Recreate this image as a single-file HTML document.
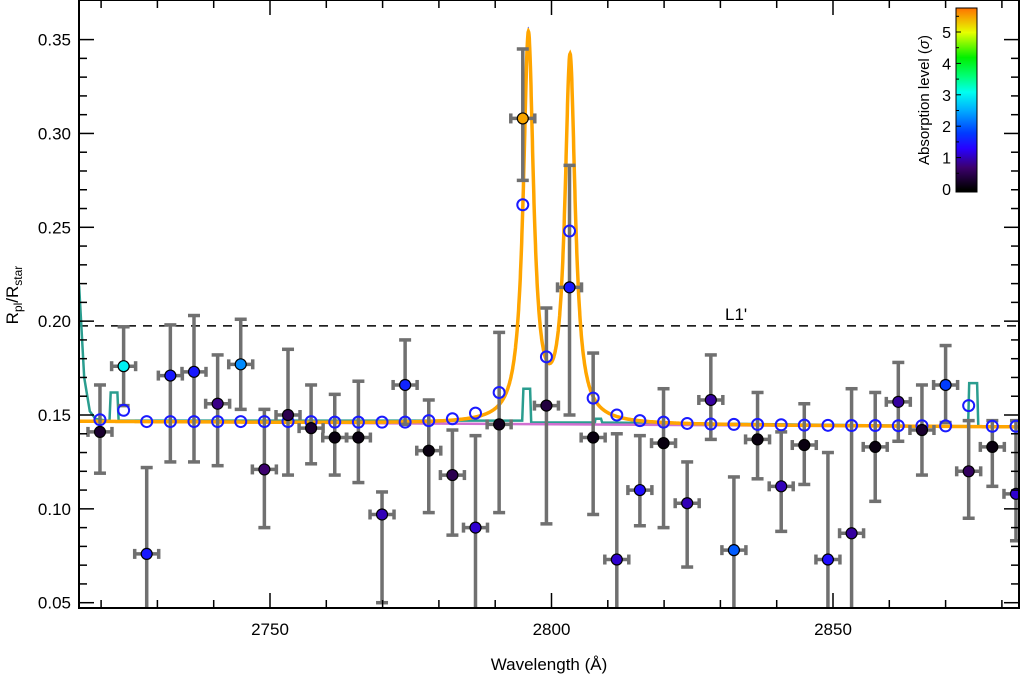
<!DOCTYPE html>
<html><head><meta charset="utf-8"><style>
html,body{margin:0;padding:0;background:#fff;}
svg{display:block;font-family:"Liberation Sans",sans-serif;}
</style></head><body>
<svg id="chart" width="1020" height="676" viewBox="0 0 1020 676" xmlns="http://www.w3.org/2000/svg"></svg>
<script>
const wavelengths = [2719.8,2724.0,2728.1,2732.3,2736.5,2740.7,2744.8,2749.0,2753.2,2757.3,2761.5,2765.7,2769.9,2774.0,2778.2,2782.4,2786.5,2790.7,2794.9,2799.1,2803.2,2807.4,2811.6,2815.7,2819.9,2824.1,2828.3,2832.4,2836.6,2840.8,2844.9,2849.1,2853.3,2857.5,2861.6,2865.8,2870.0,2874.1,2878.3,2882.5];
const obsValues = [0.141,0.176,0.076,0.171,0.173,0.156,0.177,0.121,0.150,0.143,0.138,0.138,0.097,0.166,0.131,0.118,0.090,0.145,0.308,0.155,0.218,0.138,0.073,0.110,0.135,0.103,0.158,0.078,0.137,0.112,0.134,0.073,0.087,0.133,0.157,0.142,0.166,0.120,0.133,0.108];
const errLow = [0.119,0.155,0.040,0.125,0.125,0.123,0.153,0.090,0.118,0.124,0.118,0.114,0.050,0.145,0.098,0.086,0.040,0.098,0.275,0.092,0.150,0.097,0.040,0.091,0.090,0.069,0.137,0.040,0.116,0.088,0.113,0.040,0.040,0.104,0.136,0.118,0.146,0.095,0.112,0.083];
const errHigh = [0.166,0.197,0.122,0.198,0.203,0.182,0.201,0.153,0.185,0.166,0.161,0.168,0.109,0.190,0.158,0.142,0.139,0.194,0.345,0.207,0.283,0.183,0.140,0.139,0.164,0.125,0.182,0.117,0.162,0.141,0.156,0.130,0.164,0.162,0.178,0.166,0.187,0.147,0.147,0.147];
const sigmaValues = [0.3,3.0,1.5,1.5,1.5,0.8,2.3,0.7,0.5,0.3,0.1,0.1,1.0,1.6,0.1,0.5,1.1,0.2,5.5,0.4,1.5,0.1,1.1,1.4,0.1,1.0,0.9,2.0,0.1,1.0,0.1,1.4,0.9,0.1,0.9,0.3,1.8,0.6,0.1,1.1];
const modelBinned = [0.1475,0.1525,0.1465,0.1465,0.1465,0.1465,0.1465,0.1465,0.1465,0.1465,0.1462,0.1462,0.1462,0.1462,0.1470,0.1480,0.1510,0.1620,0.2620,0.1810,0.2480,0.1590,0.1500,0.1470,0.1462,0.1455,0.1452,0.1450,0.1450,0.1448,0.1446,0.1445,0.1444,0.1444,0.1443,0.1443,0.1442,0.1550,0.1440,0.1440];
const yTicks = [0.05,0.10,0.15,0.20,0.25,0.30,0.35];
const xTicks = [2750,2800,2850];
const cbTicks = [0,1,2,3,4,5];
const lineCenters = [2795.9,2803.3];
const lineAmps = [0.205,0.193];
const teal = [[2716.1,0.219],[2717.0,0.170],[2718,0.152],[2719,0.148],[2721.0,0.147],[2721.5,0.147],[2721.7,0.162],[2722.9,0.162],[2723.1,0.147],[2794.8,0.147],[2795.0,0.164],[2796.2,0.164],[2796.4,0.146],[2807.7,0.146],[2807.8,0.148],[2808.8,0.148],[2809.0,0.146],[2874.0,0.144],[2874.2,0.167],[2875.6,0.167],[2875.8,0.144]];

const L=79,R=1019,T=0,B=608;
const xs=w=>270+(w-2750)*5.63;
const ys=v=>415-(v-0.15)*1877;
const svg=document.getElementById('chart');
const NS='http://www.w3.org/2000/svg';
function mk(tag,attrs,parent){const e=document.createElementNS(NS,tag);for(const k in attrs)e.setAttribute(k,attrs[k]);(parent||svg).appendChild(e);return e;}
const stops=[[0,[0,0,0]],[0.7,[60,0,110]],[1.3,[40,0,255]],[1.8,[0,60,255]],[2.5,[0,170,255]],[3.1,[0,255,240]],[3.6,[0,255,120]],[4.2,[0,240,0]],[5.0,[230,255,0]],[5.8,[255,110,0]]];
function cmap(s){for(let i=0;i<stops.length-1;i++){const a=stops[i],b=stops[i+1];if(s<=b[0]){const t=Math.max(0,(s-a[0])/(b[0]-a[0]));return 'rgb('+a[1].map((c,j)=>Math.round(c+(b[1][j]-c)*t)).join(',')+')';}}return 'rgb(255,110,0)';}
function base(w){return 0.1466-(w-2716)*0.000018;}
function model(w){let v=base(w);for(let i=0;i<lineCenters.length;i++){const d=(w-lineCenters[i])/1.1;v+=lineAmps[i]/(1+d*d);}return v;}

mk('defs',{}).innerHTML='<clipPath id="pc"><rect x="79" y="0" width="940" height="608"/></clipPath><clipPath id="tipc"><rect x="79" y="0" width="940" height="28"/></clipPath>';
const plot=mk('g',{'clip-path':'url(#pc)'});


const dl=mk('line',{x1:L,x2:R,y1:ys(0.1975),y2:ys(0.1975),stroke:'#000','stroke-width':1.5,'stroke-dasharray':'9,7'},plot);


const lt=mk('text',{x:725,y:ys(0.1975)-6,'font-size':17},plot);lt.textContent="L1'";


let tp=teal.map((p,i)=>(i?'L':'M')+xs(p[0]).toFixed(1)+','+ys(p[1]).toFixed(1)).join(' ');
const tl=mk('path',{d:tp,fill:'none',stroke:'#2a9d8f','stroke-width':2.5},plot);


const ml=mk('line',{x1:L,x2:R,y1:ys(base(2716)),y2:ys(base(2883)),stroke:'#d070d0','stroke-width':2.5},plot);


let op='';for(let w=2716;w<=2883;w+=0.05){op+=(op?'L':'M')+xs(w).toFixed(1)+','+ys(model(w)).toFixed(1);}
const ol=mk('path',{d:op,fill:'none',stroke:'#ffa500','stroke-width':3.5},plot);


const blueTip=mk('path',{d:op,fill:'none',stroke:'#1030ff','stroke-width':3.5,'clip-path':'url(#tipc)'},plot);


for(let i=0;i<wavelengths.length;i++){
  const x=xs(wavelengths[i]),y=ys(obsValues[i]),y1=ys(errHigh[i]),y2=ys(errLow[i]);
  const g=mk('g',{stroke:'#707070','stroke-width':3.5},plot);
  
  
  mk('line',{x1:x,x2:x,y1:y1,y2:y2},g);
  mk('line',{x1:x-6,x2:x+6,y1:y1,y2:y1},g);
  mk('line',{x1:x-6,x2:x+6,y1:y2,y2:y2},g);
  mk('line',{x1:x-12,x2:x+12,y1:y,y2:y},g);
  mk('line',{x1:x-12,x2:x-12,y1:y-5,y2:y+5},g);
  mk('line',{x1:x+12,x2:x+12,y1:y-5,y2:y+5},g);
}
for(let i=0;i<wavelengths.length;i++){
  const c=mk('circle',{cx:xs(wavelengths[i]),cy:ys(modelBinned[i]),r:5.5,fill:'none',stroke:'#1a1aff','stroke-width':2},plot);
  
  
}
for(let i=0;i<wavelengths.length;i++){
  const c=mk('circle',{cx:xs(wavelengths[i]),cy:ys(obsValues[i]),r:5.5,fill:cmap(sigmaValues[i]),stroke:'#000','stroke-width':1.2},plot);
  
  
}
const box=mk('rect',{x:L,y:T,width:R-L,height:B-T,fill:'none',stroke:'#000','stroke-width':2});


const ax=mk('g',{stroke:'#000','stroke-width':1.5});


for(let v=0.05;v<=0.36;v+=0.01){const y=ys(v);if(y<T)continue;const maj=Math.abs(Math.round(v*100)%5)<0.01;const len=maj?15:8;
  mk('line',{x1:L,x2:L+len,y1:y,y2:y},ax);mk('line',{x1:R-len,x2:R,y1:y,y2:y},ax);}
for(let w=2720;w<=2880;w+=10){const x=xs(w);const len=(w%50===0)?15:8;
  mk('line',{x1:x,x2:x,y1:B,y2:B-len},ax);mk('line',{x1:x,x2:x,y1:T,y2:T+len},ax);}
yTicks.forEach(v=>{const t=mk('text',{x:L-8,y:ys(v)+6,'text-anchor':'end','font-size':17});t.textContent=v.toFixed(2);
  
  });
xTicks.forEach(w=>{const t=mk('text',{x:xs(w),y:635,'text-anchor':'middle','font-size':17});t.textContent=w;
  
  });
const xt=mk('text',{x:549,y:670,'text-anchor':'middle','font-size':17});xt.textContent='Wavelength (Å)';


const yt=mk('text',{x:0,y:0,'text-anchor':'middle','font-size':17,transform:'translate(18,295) rotate(-90)'});
yt.innerHTML='R<tspan font-size="12" dy="4">pl</tspan><tspan dy="-4">/R</tspan><tspan font-size="12" dy="4">star</tspan>';


const cb=mk('g',{});


const cbY=s=>189-s*31.4;
for(let y=8;y<192;y++){const s=(189-y)/31.4;mk('rect',{x:956,y:y,width:21,height:1.2,fill:cmap(Math.max(0,s))},cb);}
mk('rect',{x:956,y:8,width:21,height:184,fill:'none',stroke:'#000','stroke-width':1},cb);
for(let s=0;s<=5.7;s+=0.5){const y=cbY(s);mk('line',{x1:956,x2:s%1===0?961:959,y1:y,y2:y,stroke:'#000','stroke-width':1},cb);}
cbTicks.forEach(s=>{const t=mk('text',{x:951,y:cbY(s)+6,'text-anchor':'end','font-size':16},cb);t.textContent=s;
  
  });
const ct=mk('text',{x:0,y:0,'text-anchor':'middle','font-size':15,transform:'translate(929,100) rotate(-90)'},cb);
ct.innerHTML='Absorption level (<tspan font-style="italic">σ</tspan>)';


</script>
</body></html>
